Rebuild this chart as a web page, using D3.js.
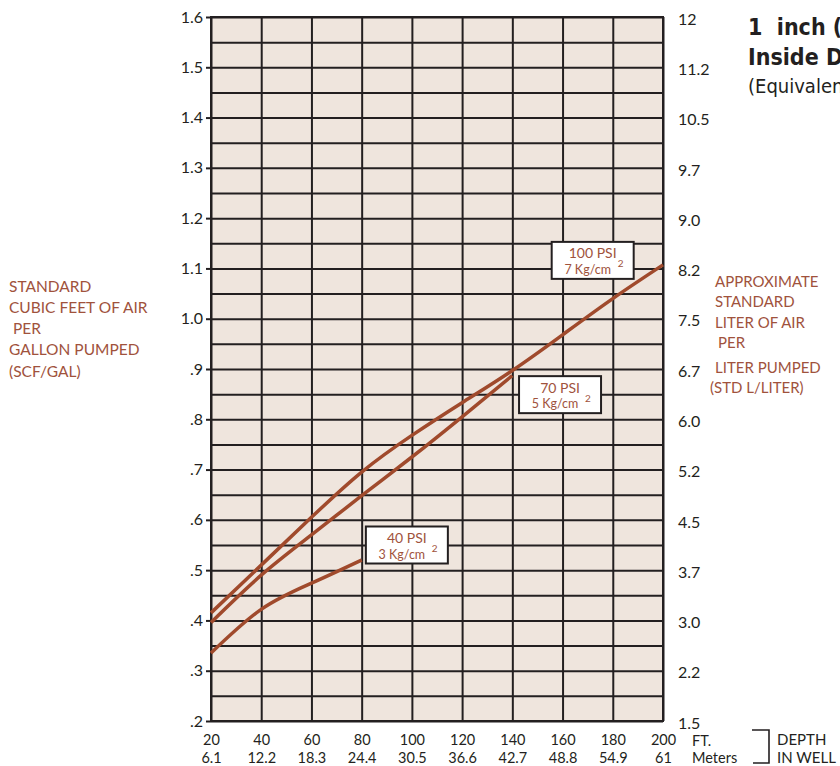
<!DOCTYPE html>
<html><head><meta charset="utf-8">
<script src="https://cdn.jsdelivr.net/npm/d3@7"></script>
<style>
html,body{margin:0;padding:0;background:#fff;}
svg{display:block;font-family:Lato,"Noto Sans",sans-serif;}
</style></head>
<body><svg id="c" width="840" height="766"></svg>
<script>
// ---- data ----
const depthFt = [20, 40, 60, 80, 100, 120, 140, 160, 180, 200];
const depthM = ["6.1","12.2","18.3","24.4","30.5","36.6","42.7","48.8","54.9","61"];
const scfTicks = [0.2,0.3,0.4,0.5,0.6,0.7,0.8,0.9,1.0,1.1,1.2,1.3,1.4,1.5,1.6];
const scfLabels = [".2",".3",".4",".5",".6",".7",".8",".9","1.0","1.1","1.2","1.3","1.4","1.5","1.6"];
const literLabels = ["1.5","2.2","3.0","3.7","4.5","5.2","6.0","6.7","7.5","8.2","9.0","9.7","10.5","11.2","12"];

const psi100Depth = [20, 40, 60, 80, 100, 120, 140, 160, 180, 200];
const psi100 = [0.415, 0.51, 0.605, 0.695, 0.768, 0.833, 0.897, 0.968, 1.040, 1.107];
const psi70Depth = [20, 40, 60, 80, 100, 120, 140];
const psi70 = [0.396, 0.49, 0.570, 0.648, 0.725, 0.805, 0.887];
const psi40Depth = [20, 40, 60, 80];
const psi40 = [0.335, 0.422, 0.474, 0.52];

const calloutTitles = ["100 PSI", "70 PSI", "40 PSI"];
const calloutMetric = ["7 Kg/cm", "5 Kg/cm", "3 Kg/cm"];
const calloutDepth = [172, 159, 98];
const calloutValue = [1.116, 0.849, 0.55];

// ---- layout ----
const L = 211, R = 663, T = 17, B = 721;
const brown = "#a04a2c", textBrown = "#a0523c", ink = "#231f20", bg = "#efe5dd";
const ff = "Lato, 'Noto Sans', sans-serif";

const svg = d3.select("#c");
const x = d3.scaleLinear().domain([20, 200]).range([L, R]);
const y = d3.scaleLinear().domain([0.2, 1.6]).range([B, T]);

svg.append("rect").attr("x", L).attr("y", T).attr("width", R - L).attr("height", B - T).attr("fill", bg);

// horizontal grid (every 0.05)
const minor = d3.range(0, 29).map(i => +(0.2 + i * 0.05).toFixed(2));
svg.append("g").attr("transform", `translate(${L},0)`)
  .call(d3.axisLeft(y).tickValues(minor).tickSize(-(R - L)).tickFormat(""))
  .call(g => g.select(".domain").remove())
  .call(g => g.selectAll("line").attr("stroke", ink).attr("stroke-width", 2));

// vertical grid
svg.append("g").attr("transform", `translate(0,${B})`)
  .call(d3.axisBottom(x).tickValues(depthFt).tickSize(-(B - T)).tickFormat(""))
  .call(g => g.select(".domain").remove())
  .call(g => g.selectAll("line").attr("stroke", ink).attr("stroke-width", 2));

// left axis
svg.append("g").attr("transform", `translate(${L},0)`)
  .call(d3.axisLeft(y).tickValues(scfTicks).tickSize(5).tickPadding(3)
    .tickFormat((d, i) => scfLabels[i]))
  .call(g => g.select(".domain").remove())
  .call(g => g.selectAll("line").attr("stroke", ink).attr("stroke-width", 2))
  .call(g => g.selectAll("text").attr("fill", ink).attr("font-size", 16).attr("font-family", ff));

// right axis labels (liters)
svg.append("g").attr("transform", `translate(${R},0)`)
  .call(d3.axisRight(y).tickValues(scfTicks).tickSize(0).tickPadding(15)
    .tickFormat((d, i) => literLabels[i]))
  .call(g => g.select(".domain").remove())
  .call(g => g.selectAll("text").attr("fill", ink).attr("font-size", 16).attr("dy", "0.45em")
    .attr("font-family", ff));

// bottom axis: feet
svg.append("g").attr("transform", `translate(0,${B})`)
  .call(d3.axisBottom(x).tickValues(depthFt).tickSize(0).tickPadding(14)
    .tickFormat(d => String(d)))
  .call(g => g.select(".domain").remove())
  .call(g => g.selectAll("text").attr("fill", ink).attr("font-size", 14.5).attr("font-family", ff));
// bottom axis: meters
svg.append("g").attr("transform", `translate(0,${B + 17.5})`)
  .call(d3.axisBottom(x).tickValues(depthFt).tickSize(0).tickPadding(14)
    .tickFormat((d, i) => depthM[i]))
  .call(g => g.select(".domain").remove())
  .call(g => g.selectAll("text").attr("fill", ink).attr("font-size", 14.5).attr("font-family", ff));

// border
svg.append("rect").attr("x", L).attr("y", T).attr("width", R - L).attr("height", B - T)
  .attr("fill", "none").attr("stroke", ink).attr("stroke-width", 2);

// curves
const line = d3.line().x(d => x(d[0])).y(d => y(d[1])).curve(d3.curveNatural);
[[psi100Depth, psi100], [psi70Depth, psi70], [psi40Depth, psi40]].forEach(([xs, ys]) => {
  svg.append("path").datum(xs.map((d, i) => [d, ys[i]]))
    .attr("d", line).attr("fill", "none").attr("stroke", brown).attr("stroke-width", 3.5);
});

// callouts
calloutTitles.forEach((t, i) => {
  const cx = x(calloutDepth[i]), cy = y(calloutValue[i]);
  const g = svg.append("g").attr("transform", `translate(${cx},${cy})`);
  g.append("rect").attr("x", -41).attr("y", -18.5).attr("width", 82).attr("height", 37)
    .attr("fill", "#fff").attr("stroke", ink).attr("stroke-width", 2);
  g.append("text").attr("x", 0).attr("y", -2).attr("text-anchor", "middle")
    .attr("font-size", 14).attr("fill", textBrown).text(t);
  g.append("text").attr("x", -5).attr("y", 13.5).attr("text-anchor", "middle")
    .attr("font-size", 12.5).attr("fill", textBrown).text(calloutMetric[i]);
  g.append("text").attr("x", 25).attr("y", 7).attr("font-size", 10)
    .attr("fill", textBrown).text("2");
});

// left axis title
const leftLines = [["STANDARD", 9], ["CUBIC FEET OF AIR", 9], [" PER", 9], ["GALLON PUMPED", 9], ["(SCF/GAL)", 9]];
const leftBase = [292, 313, 334, 355, 376.5];
leftLines.forEach((l, i) => {
  svg.append("text").attr("x", l[1]).attr("y", leftBase[i]).attr("font-size", 15.5)
    .attr("fill", textBrown).style("white-space", "pre").text(l[0]);
});

// right axis title
const rightLines = [["APPROXIMATE", 715], ["STANDARD", 715], ["LITER OF AIR", 715], ["PER", 718], ["LITER PUMPED", 715], ["(STD L/LITER)", 710]];
const rightBase = [286.5, 306.5, 328, 348, 372.5, 392.5];
rightLines.forEach((l, i) => {
  svg.append("text").attr("x", l[1]).attr("y", rightBase[i]).attr("font-size", 15)
    .attr("fill", textBrown).text(l[0]);
});

// bottom unit labels
svg.append("text").attr("x", 692).attr("y", 745.5).attr("font-size", 14.5).attr("fill", ink).text("FT.");
svg.append("text").attr("x", 692).attr("y", 763).attr("font-size", 14.5).attr("fill", ink).text("Meters");
svg.append("path").attr("d", "M752,730H769V763H753").attr("fill", "none").attr("stroke", ink).attr("stroke-width", 1.6);
svg.append("text").attr("x", 777).attr("y", 745).attr("font-size", 15).attr("fill", ink).text("DEPTH");
svg.append("text").attr("x", 777).attr("y", 762.5).attr("font-size", 15).attr("fill", ink).text("IN WELL");

// title (clipped by page edge, as in the reference)
const tf = "'Liberation Sans Narrow','DejaVu Sans',sans-serif";
svg.append("text").attr("x", 748).attr("y", 35).attr("font-family", tf).attr("font-weight", "bold")
  .attr("font-stretch", "condensed")
  .attr("font-size", 23).attr("fill", ink).style("white-space", "pre").text("1  inch (25 mm)");
svg.append("text").attr("x", 748).attr("y", 65).attr("font-family", tf).attr("font-weight", "bold")
  .attr("font-stretch", "condensed")
  .attr("font-size", 23).attr("fill", ink).text("Inside Diameter");
svg.append("text").attr("x", 748).attr("y", 92.5).attr("font-family", tf)
  .attr("font-stretch", "condensed")
  .attr("font-size", 20).attr("fill", ink).text("(Equivalent Length)");
</script></body></html>
